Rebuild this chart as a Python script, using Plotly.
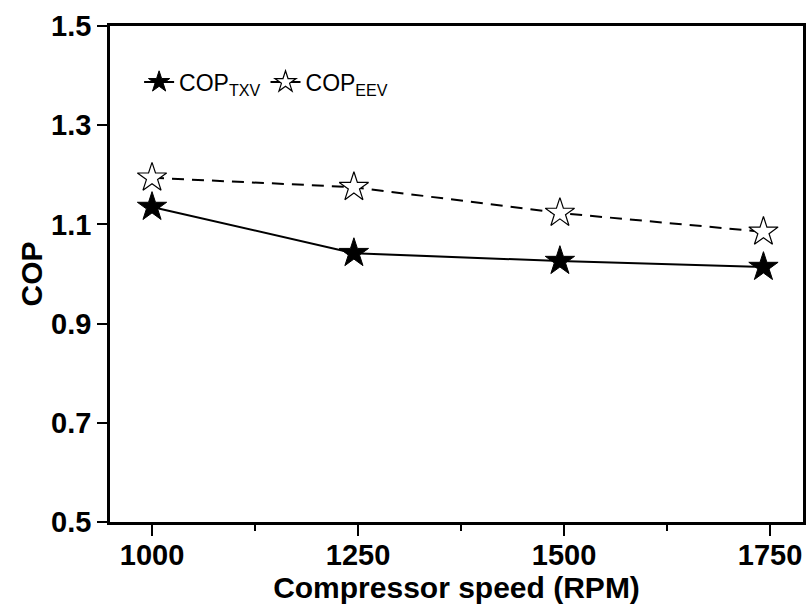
import plotly.graph_objects as go

speed = [1000, 1245, 1495, 1742]
cop_txv = [1.135, 1.042, 1.026, 1.014]
cop_eev = [1.194, 1.175, 1.123, 1.085]

fig = go.Figure()
fig.add_trace(go.Scatter(
    x=speed, y=cop_txv, mode="lines+markers", name="COP<sub>TXV</sub>",
    line=dict(color="black", width=2),
    marker=dict(symbol="star", size=22, color="black", line=dict(color="black", width=1)),
))
fig.add_trace(go.Scatter(
    x=speed, y=cop_eev, mode="lines+markers", name="COP<sub>EEV</sub>",
    line=dict(color="black", width=2, dash="12px,8px"),
    marker=dict(symbol="star", size=22, color="white", line=dict(color="black", width=1.2)),
))

axis_font = dict(family="Liberation Sans, Arial", size=29, color="black")
title_font = dict(family="Liberation Sans, Arial", size=30, color="black")
fig.update_layout(
    width=809, height=607,
    margin=dict(l=110, r=6, t=26, b=85, autoexpand=False),
    paper_bgcolor="white", plot_bgcolor="white",
    showlegend=True,
    legend=dict(orientation="h", x=0.042, y=0.887, xanchor="left", yanchor="middle",
                font=dict(family="Liberation Sans, Arial", size=23, color="black"),
                bgcolor="rgba(0,0,0,0)", itemwidth=30, tracegroupgap=0),
    xaxis=dict(range=[949, 1790], tickvals=[1000, 1250, 1500, 1750],
               ticktext=["<b>1000</b>", "<b>1250</b>", "<b>1500</b>", "<b>1750</b>"],
               ticks="outside", ticklen=11, tickwidth=2, tickcolor="black",
               ticklabelstandoff=-6,
               minor=dict(tickvals=[1125, 1375, 1625], ticks="outside", ticklen=6, tickwidth=2, tickcolor="black"),
               showline=True, linecolor="black", linewidth=2.5, mirror=True,
               showgrid=False, zeroline=False, tickfont=axis_font, automargin=False,
               title=dict(text="<b>Compressor speed (RPM)</b>", font=title_font, standoff=0)),
    yaxis=dict(range=[0.5, 1.5], tickvals=[0.5, 0.7, 0.9, 1.1, 1.3, 1.5],
               ticktext=["<b>0.5</b>", "<b>0.7</b>", "<b>0.9</b>", "<b>1.1</b>", "<b>1.3</b>", "<b>1.5</b>"],
               ticks="outside", ticklen=10, tickwidth=2, tickcolor="black",
               showline=True, linecolor="black", linewidth=2.5, mirror=True,
               showgrid=False, zeroline=False, tickfont=axis_font, automargin=False,
               title=dict(text="<b>COP</b>", font=title_font, standoff=0)),
)

fig.write_html("out.html")
